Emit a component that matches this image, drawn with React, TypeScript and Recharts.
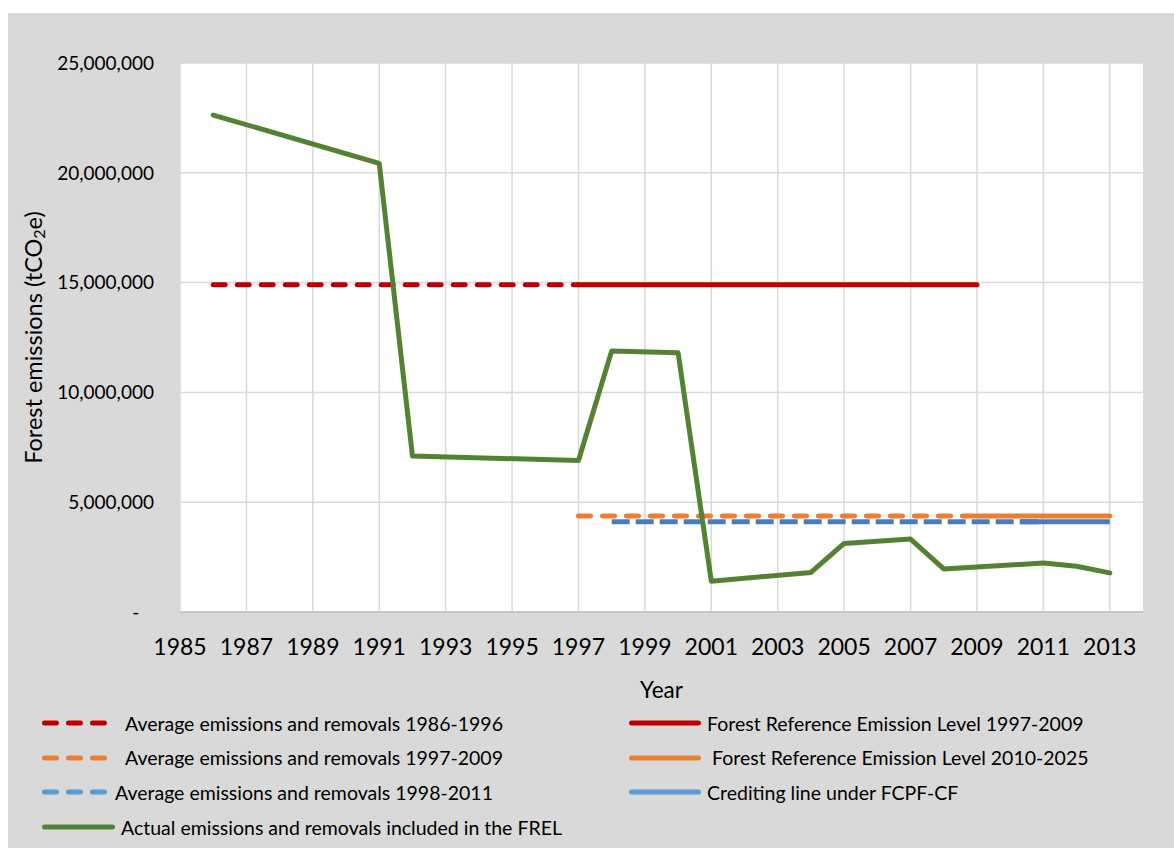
import React from 'react';
import { LineChart, Line, XAxis, YAxis, CartesianGrid } from 'recharts';

// ---- data ----
const xTicks = [1985, 1987, 1989, 1991, 1993, 1995, 1997, 1999, 2001, 2003, 2005, 2007, 2009, 2011, 2013];
const yTicks = [0, 5000000, 10000000, 15000000, 20000000, 25000000];

const actualYears = [1986, 1991, 1992, 1997, 1998, 2000, 2001, 2004, 2005, 2007, 2008, 2011, 2012, 2013];
const actualValues = [22630000, 20430000, 7100000, 6900000, 11890000, 11800000, 1400000, 1800000, 3120000, 3320000, 1960000, 2230000, 2080000, 1780000];

const avg8696Years = [1986, 1997];
const avg8696Values = [14900000, 14900000];
const frel9709Years = [1997, 2009];
const frel9709Values = [14900000, 14900000];
const avg9709Years = [1997, 2009];
const avg9709Values = [4370000, 4370000];
const frel1025Years = [2009, 2013];
const frel1025Values = [4370000, 4370000];
const avg9811Years = [1998, 2011];
const avg9811Values = [4110000, 4110000];
const creditYears = [2010.3, 2013];
const creditValues = [4110000, 4110000];

const toPoints = (years: number[], values: number[]) => years.map((y, i) => ({ year: y, value: values[i] }));

const RED = '#C00000';
const ORANGE = '#ED7D31';
const BLUE = '#4A7EBB';
const BLUE_LEG = '#5B9BD5';
const GREEN = '#548235';

type SeriesDef = {
  name: string;
  data: { year: number; value: number }[];
  color: string;
  legendColor: string;
  dash?: string;
  cap: 'round' | 'butt';
};

const series: SeriesDef[] = [
  { name: 'Average emissions and removals 1986-1996', data: toPoints(avg8696Years, avg8696Values), color: RED, legendColor: RED, dash: '12 12', cap: 'round' },
  { name: 'Forest Reference Emission Level 1997-2009', data: toPoints(frel9709Years, frel9709Values), color: RED, legendColor: RED, cap: 'round' },
  { name: 'Average emissions and removals 1997-2009', data: toPoints(avg9709Years, avg9709Values), color: ORANGE, legendColor: ORANGE, dash: '12 12', cap: 'round' },
  { name: 'Forest Reference Emission Level 2010-2025', data: toPoints(frel1025Years, frel1025Values), color: ORANGE, legendColor: ORANGE, cap: 'round' },
  { name: 'Average emissions and removals 1998-2011', data: toPoints(avg9811Years, avg9811Values), color: BLUE, legendColor: BLUE_LEG, dash: '18 6', cap: 'butt' },
  { name: 'Crediting line under FCPF-CF', data: toPoints(creditYears, creditValues), color: BLUE, legendColor: BLUE_LEG, cap: 'butt' },
  { name: 'Actual emissions and removals included in the FREL', data: toPoints(actualYears, actualValues), color: GREEN, legendColor: GREEN, cap: 'round' },
];

const legendLeft = [
  { idx: 0, gap: 16 },
  { idx: 2, gap: 16 },
  { idx: 4, gap: 6 },
  { idx: 6, gap: 6 },
];
const legendRight = [
  { idx: 1, gap: 6 },
  { idx: 3, gap: 11 },
  { idx: 5, gap: 6 },
];

const fmtY = (v: number) => (v === 0 ? '-\u00a0\u00a0\u00a0' : v.toLocaleString('en-US'));

const YLabel = (props: any) => {
  const vb = props.viewBox || { x: 0, y: 0, width: 0, height: 0 };
  const cx = vb.x + 25;
  const cy = vb.y + vb.height / 2;
  return (
    <text
      x={cx}
      y={cy}
      transform={`rotate(-90 ${cx} ${cy})`}
      textAnchor="middle"
      dominantBaseline="central"
      fontSize={23.5}
      fill="#000"
    >
      Forest emissions (tCO
      <tspan fontSize={16} dy={5}>2</tspan>
      <tspan dy={-5}>e)</tspan>
    </text>
  );
};

const XLabel = (props: any) => {
  const vb = props.viewBox || { x: 0, y: 0, width: 0, height: 0 };
  return (
    <text x={vb.x + vb.width / 2} y={vb.y + 86} textAnchor="middle" fontSize={22.5} fill="#000">
      Year
    </text>
  );
};

const LegendItem = ({ s, x, y, solidLen, gap }: { s: SeriesDef; x: number; y: number; solidLen: number; gap: number }) => {
  const dashed = !!s.dash;
  const len = dashed ? 67 : solidLen;
  return (
    <div style={{ position: 'absolute', left: x, top: y - 15, height: 30, display: 'flex', alignItems: 'center', whiteSpace: 'nowrap' }}>
      <svg width={len} height={10} style={{ display: 'block' }}>
        <line
          x1={2.5}
          y1={5}
          x2={len - 2.5}
          y2={5}
          stroke={s.legendColor}
          strokeWidth={5}
          strokeLinecap="round"
          strokeDasharray={dashed ? '12 12' : undefined}
        />
      </svg>
      <span style={{ marginLeft: gap, fontSize: 19.5, color: '#000' }}>{s.name}</span>
    </div>
  );
};

export default function App() {
  return (
    <div
      style={{
        position: 'absolute',
        left: 8,
        top: 13,
        width: 1166,
        height: 835,
        background: '#d9d9d9',
        fontFamily: 'Lato, "Open Sans", sans-serif',
        overflow: 'hidden',
      }}
    >
      <LineChart width={1166} height={835} margin={{ top: 50, right: 31, bottom: 0, left: 0 }}>
        <CartesianGrid
          stroke="#d9d9d9"
          strokeWidth={1.5}
          fill="#ffffff"
          fillOpacity={1}
          verticalValues={xTicks}
          horizontalValues={yTicks}
        />
        <XAxis
          dataKey="year"
          type="number"
          domain={[1985, 2014]}
          ticks={xTicks}
          interval={0}
          height={236}
          tickLine={false}
          tickSize={0}
          tickMargin={27}
          axisLine={{ stroke: '#bfbfbf', strokeWidth: 1.5 }}
          tick={{ fontSize: 23, fill: '#000' }}
          label={<XLabel />}
          allowDuplicatedCategory={false}
        />
        <YAxis
          type="number"
          domain={[0, 25000000]}
          ticks={yTicks}
          interval={0}
          width={172}
          tickLine={false}
          tickSize={0}
          tickMargin={26}
          axisLine={false}
          tickFormatter={fmtY}
          tick={{ fontSize: 19, fill: '#000' }}
          label={<YLabel />}
        />
        {series.map((s) => (
          <Line
            key={s.name}
            data={s.data}
            dataKey="value"
            name={s.name}
            type="linear"
            stroke={s.color}
            strokeWidth={5}
            strokeDasharray={s.dash}
            strokeLinecap={s.cap}
            strokeLinejoin="round"
            dot={false}
            activeDot={false}
            isAnimationActive={false}
            connectNulls
          />
        ))}
      </LineChart>
      {legendLeft.map((it, r) => (
        <LegendItem key={'l' + r} s={series[it.idx]} x={34} y={710 + r * 34.7} solidLen={73} gap={it.gap} />
      ))}
      {legendRight.map((it, r) => (
        <LegendItem key={'r' + r} s={series[it.idx]} x={621} y={710 + r * 34.7} solidLen={72} gap={it.gap} />
      ))}
    </div>
  );
}
